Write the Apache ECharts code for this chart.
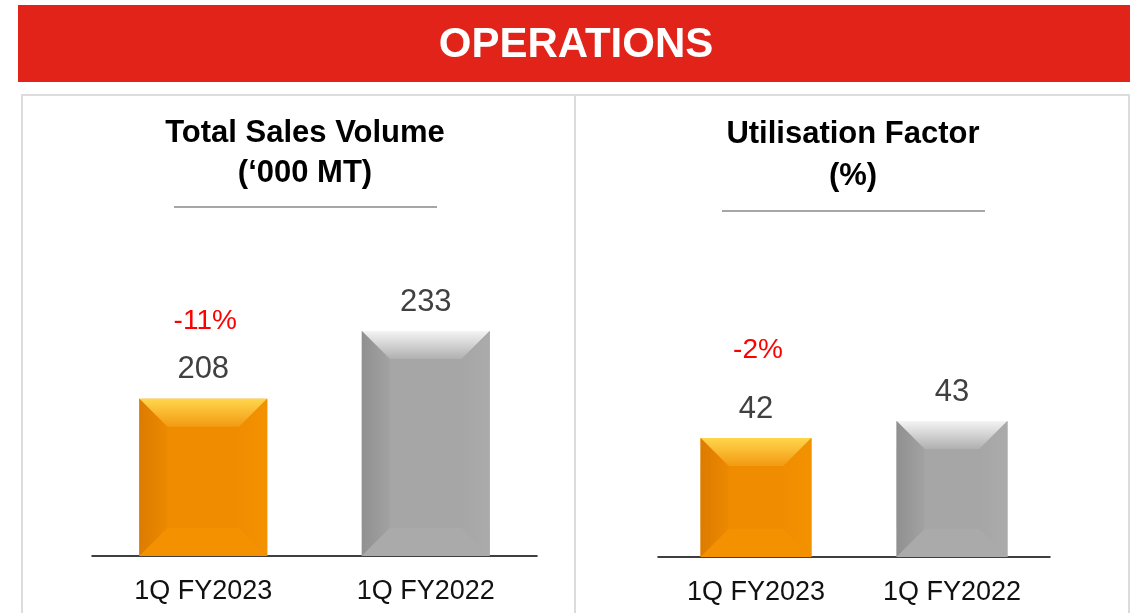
<!DOCTYPE html>
<html lang="en">
<head>
<meta charset="utf-8">
<title>Operations</title>
<script src="https://cdn.jsdelivr.net/npm/echarts@6/dist/echarts.min.js"></script>
<style>
  html, body { margin: 0; padding: 0; background: #fff; }
  #main { width: 1140px; height: 613px; }
</style>
</head>
<body>
<div id="main"></div>
<script>
// data
const categories = ['1Q FY2023', '1Q FY2022'];
const salesVolume = [208, 233];
const salesChange = ['-11%', ''];
const utilisation = [42, 43];
const utilChange = ['-2%', ''];

const FONT = '"Liberation Sans", Arial, sans-serif';

// bevel palettes: orange for current quarter, grey for last year
const palettes = [
  { center: '#f08c00', topA: '#ffd64c', topB: '#f39a12', leftA: '#dc7c00', leftB: '#ec8900', rightA: '#f18d00', rightB: '#f39200', bottom: '#f39100' },
  { center: '#a6a6a6', topA: '#f4f4f4', topB: '#b0b0b0', leftA: '#909090', leftB: '#a2a2a2', rightA: '#a6a6a6', rightB: '#ababab', bottom: '#aaaaaa' }
];

function grad(a, b, horizontal) {
  return { type: 'linear', x: 0, y: 0, x2: horizontal ? 1 : 0, y2: horizontal ? 0 : 1,
    colorStops: [{ offset: 0, color: a }, { offset: 1, color: b }] };
}

function bevelBars(ratio, changes, changeGap) {
  return function (params, api) {
    const i = api.value(0);
    const v = api.value(1);
    const cs = params.coordSys;
    const top = api.coord([i, v]);
    const w = api.size([1, 0])[0] * ratio;
    const x0 = top[0] - w / 2, x1 = top[0] + w / 2;
    const y0 = top[1], y1 = cs.y + cs.height;
    const b = Math.min(28, (y1 - y0) / 2);
    const p = palettes[i];
    const kids = [
      { type: 'rect', shape: { x: x0, y: y0, width: w, height: y1 - y0 }, style: { fill: p.center } },
      { type: 'polygon', shape: { points: [[x0, y0], [x1, y0], [x1 - b, y0 + b], [x0 + b, y0 + b]] }, style: { fill: grad(p.topA, p.topB, false) } },
      { type: 'polygon', shape: { points: [[x0, y0], [x0 + b, y0 + b], [x0 + b, y1 - b], [x0, y1]] }, style: { fill: grad(p.leftA, p.leftB, true) } },
      { type: 'polygon', shape: { points: [[x1, y0], [x1, y1], [x1 - b, y1 - b], [x1 - b, y0 + b]] }, style: { fill: grad(p.rightA, p.rightB, true) } },
      { type: 'polygon', shape: { points: [[x0, y1], [x0 + b, y1 - b], [x1 - b, y1 - b], [x1, y1]] }, style: { fill: p.bottom } },
      { type: 'text', style: { text: String(v), x: top[0], y: y0 - 29, align: 'center', verticalAlign: 'middle',
          fontSize: 31, fontFamily: FONT, fill: '#404040' } }
    ];
    if (changes[i]) {
      kids.push({ type: 'text', style: { text: changes[i], x: top[0] + 2, y: y0 - 29 - changeGap, align: 'center', verticalAlign: 'middle',
          fontSize: 28, fontFamily: FONT, fill: '#ff0000' } });
    }
    return { type: 'group', children: kids };
  };
}

const chart = echarts.init(document.getElementById('main'));

const catAxis = (gridIndex) => ({
  type: 'category', gridIndex: gridIndex, data: categories,
  axisLine: { lineStyle: { color: '#000', width: 1.5 } },
  axisTick: { show: false },
  axisLabel: { fontSize: 27, color: '#111', fontFamily: FONT, margin: 22 }
});

const option = {
  animation: false,
  title: [
    { text: 'Total Sales Volume\n(\u2018000 MT)', left: 305, top: 113, textAlign: 'center', padding: 0,
      textStyle: { fontSize: 31, fontWeight: 'bold', color: '#000', fontFamily: FONT, lineHeight: 40 } },
    { text: 'Utilisation Factor\n(%)', left: 853, top: 113, textAlign: 'center', padding: 0,
      textStyle: { fontSize: 31, fontWeight: 'bold', color: '#000', fontFamily: FONT, lineHeight: 42 } }
  ],
  graphic: [
    { type: 'rect', shape: { x: 18, y: 5, width: 1112, height: 77 }, style: { fill: '#e2231a' }, z: 0 },
    { type: 'text', style: { text: 'OPERATIONS', x: 576, y: 45, align: 'center', verticalAlign: 'middle',
        fontSize: 42, fontWeight: 'bold', fontFamily: FONT, fill: '#fff' } },
    { type: 'rect', shape: { x: 22, y: 95, width: 553, height: 530 }, style: { fill: 'none', stroke: '#dcdcdc', lineWidth: 2 } },
    { type: 'rect', shape: { x: 575, y: 95, width: 554, height: 530 }, style: { fill: 'none', stroke: '#dcdcdc', lineWidth: 2 } },
    { type: 'line', shape: { x1: 174, y1: 207, x2: 437, y2: 207 }, style: { stroke: '#a6a6a6', lineWidth: 2 } },
    { type: 'line', shape: { x1: 722, y1: 211, x2: 985, y2: 211 }, style: { stroke: '#a6a6a6', lineWidth: 2 } }
  ],
  grid: [
    { left: 92, right: 603, top: 285, bottom: 57 },
    { left: 658, right: 90, top: 302, bottom: 56 }
  ],
  xAxis: [catAxis(0), catAxis(1)],
  yAxis: [
    { type: 'value', gridIndex: 0, min: 150, max: 250, show: false },
    { type: 'value', gridIndex: 1, min: 35, max: 50, show: false }
  ],
  series: [
    { type: 'custom', xAxisIndex: 0, yAxisIndex: 0, renderItem: bevelBars(0.575, salesChange, 49),
      encode: { x: 0, y: 1 }, data: salesVolume.map((v, i) => [i, v]), clip: false },
    { type: 'custom', xAxisIndex: 1, yAxisIndex: 1, renderItem: bevelBars(0.566, utilChange, 59),
      encode: { x: 0, y: 1 }, data: utilisation.map((v, i) => [i, v]), clip: false }
  ]
};

chart.setOption(option);
</script>
</body>
</html>
